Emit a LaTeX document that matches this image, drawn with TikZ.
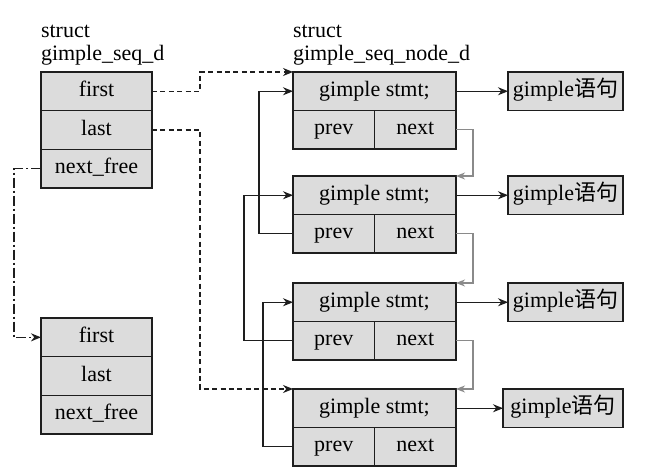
\documentclass[tikz,border=0pt]{standalone}
\usepackage{fontspec}
\setmainfont{Liberation Serif}
\newfontfamily\cjk{Noto Sans CJK SC}
\usepackage{tikz}
\usetikzlibrary{arrows.meta,positioning}
\definecolor{CellGray}{HTML}{DCDCDC}
\definecolor{EdgeDark}{HTML}{1E1E1E}
\definecolor{NextGray}{HTML}{8A8A8A}

\begin{document}
\begin{tikzpicture}[x=0.5pt,y=-0.5pt, every node/.style={font=\fontsize{11}{11.5}\selectfont,outer sep=0pt}, field/.style={draw=EdgeDark,line width=0.8pt,fill=CellGray,minimum width=55.5pt,minimum height=19.33pt,inner sep=0pt,text height=7.6pt,text depth=2.4pt}, stmt/.style={draw=EdgeDark,line width=0.8pt,fill=CellGray,minimum width=81.5pt,minimum height=19.25pt,inner sep=0pt,text height=7.6pt,text depth=2.4pt,anchor=north west}, half/.style={stmt,minimum width=40.75pt}, title/.style={align=left,inner sep=0pt,anchor=south west}, link/.style={-{Stealth[length=5pt,width=4pt]},line width=0.7pt,draw=EdgeDark}, fwd/.style={-{Stealth[length=4.5pt,width=3.5pt]},line width=0.7pt,draw=NextGray}]
\useasboundingbox (0,0) rectangle (656,474);
% gimple_seq_d
\node[field,anchor=north west] (first) at (41,72) {first};
\node[field,below=0pt of first] (last) {last};
\node[field,below=0pt of last] (nextfree) {next\_free};
\node[title] (seqtitle) at (41,65) {struct\\gimple\_seq\_d};
% free gimple_seq_d
\node[field,anchor=north west] (freefirst) at (41,318) {first};
\node[field,below=0pt of freefirst] (freelast) {last};
\node[field,below=0pt of freelast] (freenext) {next\_free};
% gimple_seq_node_d list
\node[title] (nodetitle) at (293,65) {struct\\gimple\_seq\_node\_d};
\foreach \i/\y/\gap/\w in {1/72/26/57.5,2/176/26/57.5,3/283/26/57.5,4/389/23.5/60}{
  \node[stmt] (s\i) at (293,\y) {gimple stmt;};
  \node[half] (p\i) at (s\i.south west) {prev};
  \node[half] (n\i) at (p\i.north east) {next};
  \node[field,minimum width=\w pt,minimum height=19.25pt,right=\gap pt of s\i] (g\i) {gimple{\cjk 语句}};
  \draw[link] (s\i) -- (g\i);
}
\foreach \i/\j/\d in {1/2/34,2/3/49,3/4/30}{
  \draw[link] (p\j.west) -- ++(-\d,0) |- (s\i.west);
  \draw[fwd] (n\i.east) -- ++(17,0) |- (s\j.north east);
}
\draw[link,dash pattern=on 2.5pt off 1.7pt] (first.east) -- ++(48,0) |- (s1.north west);
\draw[link,dash pattern=on 2.5pt off 1.7pt] (last.east) -- ++(48,0) |- (s4.north west);
\draw[link,dash pattern=on 5pt off 1.5pt on 1pt off 1.5pt] (nextfree.west) -- ++(-27,0) |- (freefirst.west);
\end{tikzpicture}
\end{document}
